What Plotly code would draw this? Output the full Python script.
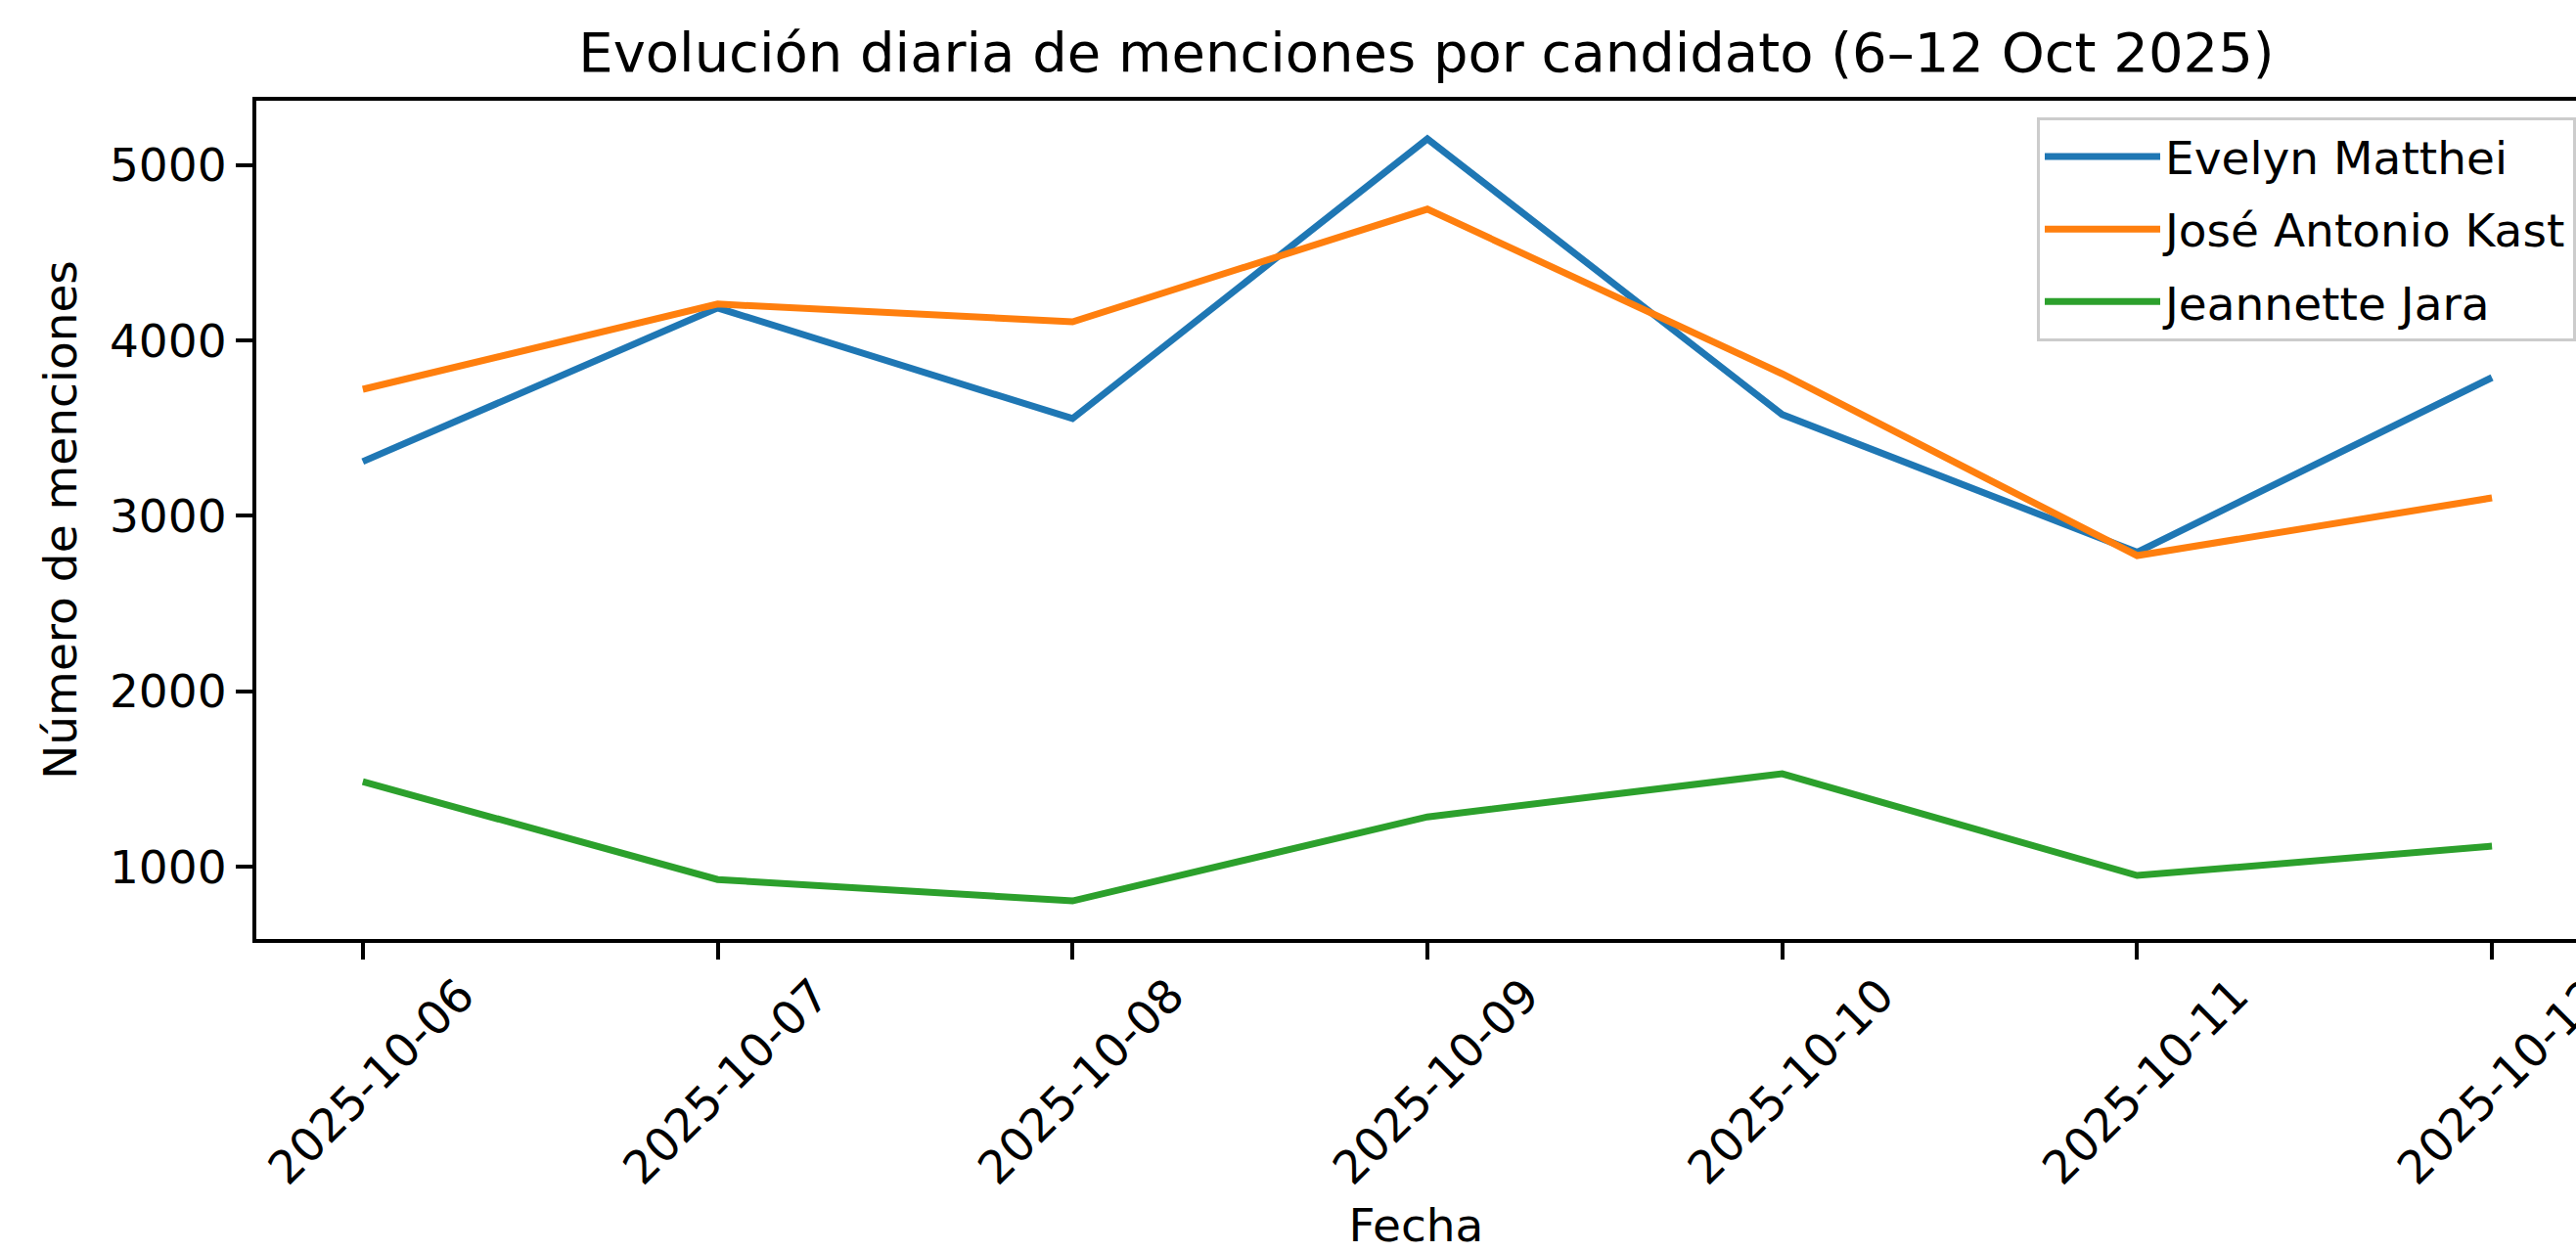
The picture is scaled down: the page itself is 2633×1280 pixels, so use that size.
import plotly.graph_objects as go

# ---- data ----
dates = ["2025-10-06", "2025-10-07", "2025-10-08", "2025-10-09",
         "2025-10-10", "2025-10-11", "2025-10-12"]
matthei = [3310, 4186, 3555, 5150, 3578, 2793, 3789]
kast = [3722, 4208, 4107, 4749, 3810, 2774, 3103]
jara = [1485, 927, 805, 1284, 1530, 950, 1117]
series_names = ["Evelyn Matthei", "José Antonio Kast", "Jeannette Jara"]
series_colors = ["#1f77b4", "#ff7f0e", "#2ca02c"]
y_ticks = [1000, 2000, 3000, 4000, 5000]
x_tick_labels = dates
title_text = "Evolución diaria de menciones por candidato (6–12 Oct 2025)"
x_title = "Fecha"
y_title = "Número de menciones"

FONT = "DejaVu Sans"
W, H = 2633, 1280

fig = go.Figure()
for i, (name, vals) in enumerate(zip(series_names, [matthei, kast, jara])):
    fig.add_trace(go.Scatter(
        x=dates, y=vals, mode="lines", name=name,
        line=dict(color=series_colors[i], width=7),
        legendgroup=f"g{i}",
    ))

all_vals = matthei + kast + jara
lo, hi = min(all_vals), max(all_vals)
m = 0.05 * (hi - lo)

fig.update_layout(
    width=W, height=H,
    margin=dict(l=262, r=0, t=103, b=320, pad=0),
    paper_bgcolor="white", plot_bgcolor="white",
    font=dict(family=FONT, size=47, color="black"),
    title=dict(text=title_text, font=dict(family=FONT, size=56, color="black"),
               xref="container", yref="container",
               x=1458 / W, xanchor="center", y=1 - 73 / H, yanchor="bottom"),
    showlegend=True,
    legend=dict(x=1, xanchor="right", y=(960 - 120) / 857, yanchor="top",
                bgcolor="rgba(255,255,255,0.8)", bordercolor="#cccccc",
                borderwidth=3, font=dict(family=FONT, size=47, color="black"),
                tracegroupgap=10, itemwidth=118),
)

fig.update_xaxes(
    type="date",
    range=["2025-10-05 16:48", "2025-10-12 05:41"],
    tickvals=dates, ticktext=x_tick_labels,
    tickangle=-45, ticks="outside", ticklen=17, tickwidth=4, tickcolor="black",
    showline=True, linecolor="black", linewidth=4, mirror=True,
    showgrid=False, zeroline=False, automargin=False,
    tickfont=dict(family=FONT, size=47, color="black"),
    ticklabelshift=100, ticklabelstandoff=-10, ticklabeloverflow="allow",
    title=dict(text=x_title, font=dict(family=FONT, size=47, color="black"), standoff=20),
)
fig.update_yaxes(
    range=[lo - m, hi + m],
    tickvals=y_ticks, ticks="outside", ticklen=17, tickwidth=4, tickcolor="black",
    showline=True, linecolor="black", linewidth=4, mirror=False,
    showgrid=False, zeroline=False, automargin=False,
    tickfont=dict(family=FONT, size=47, color="black"),
    title=dict(text=y_title, font=dict(family=FONT, size=47, color="black"), standoff=20),
)

fig.write_html("out.html", config={"displayModeBar": False},
               post_script="document.body.style.margin='0';document.body.style.overflow='hidden';")
